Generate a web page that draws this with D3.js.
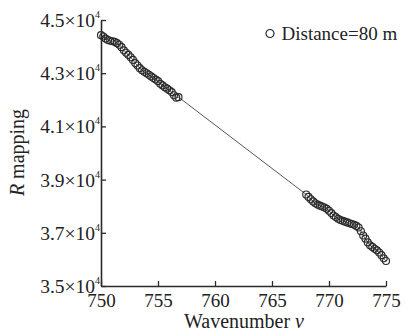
<!DOCTYPE html>
<html>
<head>
<meta charset="utf-8">
<script src="https://cdn.jsdelivr.net/npm/d3@7"></script>
<style>
  html, body { margin: 0; padding: 0; background: #fff; }
  svg { display: block; font-family: "Liberation Serif", "Times New Roman", serif; }
</style>
</head>
<body>
<svg id="chart" width="406" height="331"></svg>
<script>
// Wavenumber samples and their R mapping values (two measured bands)
const wavenumberA = [750.0, 750.2, 750.4, 750.6, 750.8, 751.0, 751.2, 751.4, 751.6, 751.8,
  752.0, 752.2, 752.4, 752.6, 752.8, 753.0, 753.2, 753.4, 753.6, 753.8,
  754.0, 754.2, 754.4, 754.6, 754.8, 755.0, 755.2, 755.4, 755.6, 755.8,
  756.0, 756.2, 756.4, 756.6, 756.8];
const mappingA = [44430, 44380, 44300, 44250, 44220, 44200, 44180, 44130, 44070, 43980,
  43860, 43770, 43690, 43600, 43500, 43380, 43290, 43190, 43110, 43050,
  43000, 42940, 42880, 42820, 42760, 42700, 42600, 42540, 42470, 42420,
  42360, 42290, 42170, 42080, 42100];
const wavenumberB = [768.0, 768.2, 768.4, 768.6, 768.8, 769.0, 769.2, 769.4, 769.6, 769.8,
  770.0, 770.2, 770.4, 770.6, 770.8, 771.0, 771.2, 771.4, 771.6, 771.8,
  772.0, 772.2, 772.4, 772.6, 772.8, 773.0, 773.2, 773.4, 773.6, 773.8,
  774.0, 774.2, 774.4, 774.6, 774.8, 775.0];
const mappingB = [38440, 38350, 38260, 38180, 38110, 38060, 38020, 37990, 37950, 37900,
  37830, 37740, 37650, 37590, 37530, 37480, 37450, 37420, 37390, 37360,
  37330, 37300, 37260, 37200, 37060, 36900, 36780, 36640, 36530, 36470,
  36400, 36340, 36260, 36160, 36040, 35940];

const xTicks = [750, 755, 760, 765, 770, 775];
const yTicks = [35000, 37000, 39000, 41000, 43000, 45000];
const yTickMantissa = ["3.5", "3.7", "3.9", "4.1", "4.3", "4.5"];
const legendLabel = "Distance=80 m";

const svg = d3.select("#chart");
const margin = { left: 101, right: 20, top: 20, bottom: 45 };
const W = 406, H = 331;

const x = d3.scaleLinear().domain([750, 775]).range([margin.left, W - margin.right]);
const y = d3.scaleLinear().domain([35000, 45000]).range([H - margin.bottom, margin.top]);

const ink = "#2a2a2a";
const serif = "Liberation Serif";

// Points in order of wavenumber
const points = wavenumberA.map((v, i) => ({ v, r: mappingA[i] }))
  .concat(wavenumberB.map((v, i) => ({ v, r: mappingB[i] })));

// Connecting line
svg.append("path")
  .datum(points)
  .attr("fill", "none")
  .attr("stroke", "#444")
  .attr("stroke-width", 0.9)
  .attr("d", d3.line().x(d => x(d.v)).y(d => y(d.r)));

// Hollow circle markers
svg.append("g").selectAll("circle")
  .data(points)
  .join("circle")
  .attr("cx", d => x(d.v))
  .attr("cy", d => y(d.r))
  .attr("r", 3.5)
  .attr("fill", "none")
  .attr("stroke", ink)
  .attr("stroke-width", 1.15);

// Bottom axis (ticks pointing inward)
const xAxis = svg.append("g")
  .attr("transform", `translate(0,${y(35000)})`)
  .call(d3.axisBottom(x).tickValues(xTicks).tickSizeInner(-5).tickSizeOuter(0).tickFormat(d3.format("d")));
xAxis.select(".domain").attr("stroke", ink).attr("stroke-width", 1.6);
xAxis.selectAll(".tick line").attr("stroke", ink).attr("stroke-width", 1.3);
xAxis.selectAll(".tick text").attr("font-size", 19).attr("fill", "#222")
  .attr("font-family", serif).attr("y", 21).attr("dy", null);

// Left axis (ticks pointing inward) with ×10^4 labels
const yAxis = svg.append("g")
  .attr("transform", `translate(${x(750)},0)`)
  .call(d3.axisLeft(y).tickValues(yTicks).tickSizeInner(-5).tickSizeOuter(0).tickFormat(() => ""));
yAxis.select(".domain").attr("stroke", ink).attr("stroke-width", 1.6);
yAxis.selectAll(".tick line").attr("stroke", ink).attr("stroke-width", 1.3);
yAxis.selectAll(".tick text").remove();
yAxis.selectAll(".tick").each(function (d, i) {
  const t = d3.select(this).append("text")
    .attr("x", -1).attr("y", 6.5)
    .attr("text-anchor", "end")
    .attr("fill", "#222")
    .attr("font-family", serif)
    .attr("font-size", 19.5);
  t.append("tspan").text(yTickMantissa[i] + "×10");
  t.append("tspan").text("4").attr("font-size", 10).attr("dy", -9);
});

// Axis titles
svg.append("text")
  .attr("x", 244).attr("y", 328)
  .attr("text-anchor", "middle")
  .attr("font-family", serif)
  .attr("font-size", 20).attr("fill", "#222")
  .call(t => {
    t.append("tspan").text("Wavenumber ");
    t.append("tspan").text("ν").attr("font-style", "italic");
  });

svg.append("text")
  .attr("transform", `translate(23.5,152.5) rotate(-90)`)
  .attr("text-anchor", "middle")
  .attr("font-family", serif)
  .attr("font-size", 20).attr("fill", "#222")
  .call(t => {
    t.append("tspan").text("R").attr("font-style", "italic");
    t.append("tspan").text(" mapping");
  });

// Legend
const legend = svg.append("g").attr("transform", "translate(270,33.5)");
legend.append("circle").attr("r", 4).attr("fill", "none").attr("stroke", ink).attr("stroke-width", 1.2);
legend.append("text").attr("x", 11.5).attr("y", 6)
  .attr("font-family", serif)
  .attr("font-size", 19).attr("fill", "#222").text(legendLabel);
</script>
</body>
</html>
